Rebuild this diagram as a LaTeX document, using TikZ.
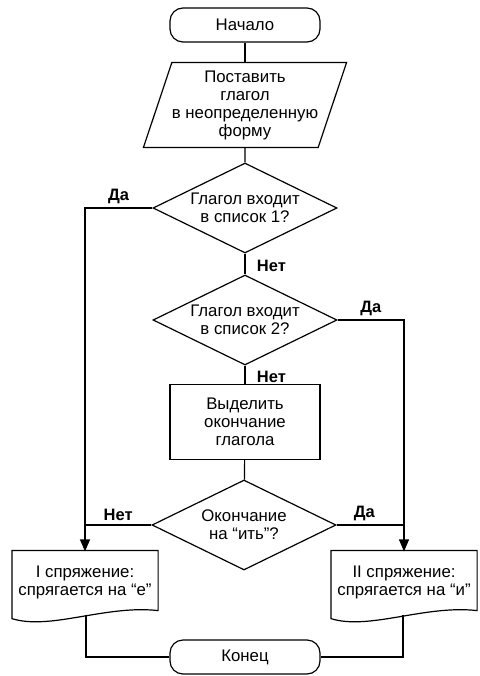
\documentclass[tikz,border=0pt]{standalone}
\usepackage{fontspec}
\setmainfont{Liberation Sans}
\usetikzlibrary{shapes.geometric,arrows.meta,positioning,calc}

\tikzset{
  base/.style={draw, line width=1.2pt, align=center, font=\fontsize{16.8}{18}\selectfont},
  term/.style={base, rounded corners=13pt, minimum width=150pt, minimum height=34pt},
  io/.style={base, trapezium, trapezium left angle=67.6, trapezium right angle=112.4,
    trapezium stretches body, minimum width=193pt, minimum height=85pt, inner sep=0pt},
  cond/.style={base, diamond, aspect=2.04, inner sep=0pt, minimum width=184pt, minimum height=90pt},
  proc/.style={base, rectangle, minimum width=150pt, minimum height=75pt},
  doc/.style={base, draw=none, minimum width=145pt, minimum height=60pt},
  lbl/.style={font=\bfseries\fontsize{16.5}{18}\selectfont},
  arr/.style={-{Triangle[length=12pt,width=10pt]}}
}

\begin{document}
\begin{tikzpicture}[x=1pt, y=-1pt, line width=1.2pt]
  \useasboundingbox (0,0) rectangle (479,676);
  \node[term] (start) at (245,25) {Начало};
  \node[io] (input) at (245,105) {Поставить\\глагол\\в неопределенную\\форму};
  \node[cond] (d1) at (245,208) {Глагол входит\\в список 1?};
  \node[cond] (d2) at (245,320) {Глагол входит\\в список 2?};
  \node[proc] (cut) at (245,422) {Выделить\\окончание\\глагола};
  \node[cond] (d3) at (244,525) {Окончание\\на “ить”?};
  \node[doc] (doc1) at (85,582) {I спряжение:\\спрягается на “е”};
  \node[doc] (doc2) at (404,582) {II спряжение:\\спрягается на “и”};
  \node[term] (stop) at (245,657) {Конец};

  % document outlines
  \foreach \d in {doc1,doc2}
    \draw ($(\d.north west)+(0,-1)$) -- ($(\d.south west)+(0,6)$)
      .. controls ($(\d.south west)+(38,18)$) and ($(\d.south east)+(-52,-8)$)
      .. ($(\d.south east)+(0,-2)$) -- ($(\d.north east)+(0,-1)$) -- cycle;
  \coordinate (out1) at ($(doc1.south)+(1,2)$);
  \coordinate (out2) at ($(doc2.south)+(-1,2)$);

  \draw (start) -- (input);
  \draw (input) -- (d1);
  \draw[arr] (d1.west) -| node[lbl, pos=0.25, above] {Да} (doc1.north);
  \draw (d1) -- node[lbl, right=8pt, pos=0.6] {Нет} (d2);
  \draw[arr] (d2.east) -| node[lbl, pos=0.25, above] {Да} (doc2.north);
  \draw (d2) -- node[lbl, right=8pt, pos=0.6] {Нет} (cut);
  \draw (cut) -- (d3);
  \draw (d3.west) -- node[lbl, above] {Нет} (d3.west -| doc1.north);
  \draw (d3.east) -- node[lbl, above, xshift=-6pt] {Да} (d3.east -| doc2.north);
  \draw (out1) |- (stop.west);
  \draw (out2) |- (stop.east);
\end{tikzpicture}
\end{document}
